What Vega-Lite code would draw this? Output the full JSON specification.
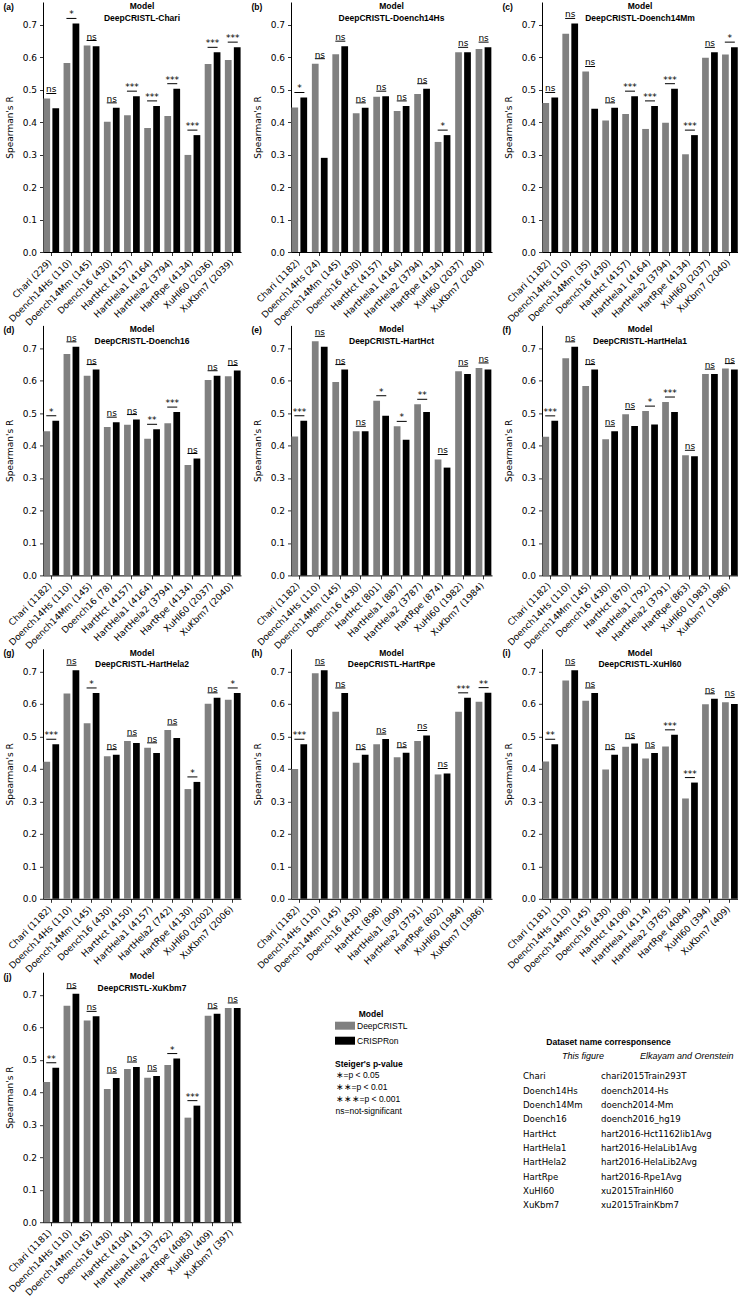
{
"$schema":"https://vega.github.io/schema/vega-lite/v6.json",
"padding":{"left":3,"top":2,"right":0,"bottom":0},
"config":{
 "font":"DejaVu Sans",
 "view":{"stroke":null},
 "axis":{"labelFont":"DejaVu Sans","labelFontSize":9,"labelColor":"#000","titleFont":"DejaVu Sans","titleFontSize":9,"titleFontWeight":"normal","titleColor":"#000","domainColor":"#000","domainWidth":1,"tickColor":"#000","tickWidth":0.8,"tickSize":3.5,"grid":false},
 "axisBottom":{"labelAngle":-45,"labelAlign":"right","labelBaseline":"top","labelPadding":2,"labelOffset":-4,"labelOverlap":false,"labelLimit":0},
 "axisLeft":{"labelPadding":3,"titlePadding":8,"labelOverlap":false},
 "title":{"font":"Liberation Sans","fontSize":8.5,"fontWeight":"bold","color":"#000","subtitleFont":"Liberation Sans","subtitleFontSize":8.5,"subtitleFontWeight":"bold","subtitleColor":"#000","subtitlePadding":3,"anchor":"middle","frame":"group","offset":-20}
},
"datasets":{
"r":[
{"p":"a","ds":"Chari (229)","DeepCRISTL":0.473,"CRISPRon":0.443,"sig":"ns"},
{"p":"a","ds":"Doench14Hs (110)","DeepCRISTL":0.582,"CRISPRon":0.704,"sig":"*"},
{"p":"a","ds":"Doench14Mm (145)","DeepCRISTL":0.636,"CRISPRon":0.634,"sig":"ns"},
{"p":"a","ds":"Doench16 (430)","DeepCRISTL":0.401,"CRISPRon":0.444,"sig":"ns"},
{"p":"a","ds":"HartHct (4157)","DeepCRISTL":0.421,"CRISPRon":0.480,"sig":"***"},
{"p":"a","ds":"HartHela1 (4164)","DeepCRISTL":0.382,"CRISPRon":0.450,"sig":"***"},
{"p":"a","ds":"HartHela2 (3794)","DeepCRISTL":0.419,"CRISPRon":0.503,"sig":"***"},
{"p":"a","ds":"HartRpe (4134)","DeepCRISTL":0.299,"CRISPRon":0.360,"sig":"***"},
{"p":"a","ds":"XuHl60 (2036)","DeepCRISTL":0.579,"CRISPRon":0.615,"sig":"***"},
{"p":"a","ds":"XuKbm7 (2039)","DeepCRISTL":0.591,"CRISPRon":0.631,"sig":"***"},
{"p":"b","ds":"Chari (1182)","DeepCRISTL":0.445,"CRISPRon":0.476,"sig":"*"},
{"p":"b","ds":"Doench14Hs (24)","DeepCRISTL":0.580,"CRISPRon":0.290,"sig":"ns"},
{"p":"b","ds":"Doench14Mm (145)","DeepCRISTL":0.609,"CRISPRon":0.634,"sig":"ns"},
{"p":"b","ds":"Doench16 (430)","DeepCRISTL":0.427,"CRISPRon":0.444,"sig":"ns"},
{"p":"b","ds":"HartHct (4157)","DeepCRISTL":0.478,"CRISPRon":0.480,"sig":"ns"},
{"p":"b","ds":"HartHela1 (4164)","DeepCRISTL":0.434,"CRISPRon":0.450,"sig":"ns"},
{"p":"b","ds":"HartHela2 (3794)","DeepCRISTL":0.487,"CRISPRon":0.503,"sig":"ns"},
{"p":"b","ds":"HartRpe (4134)","DeepCRISTL":0.339,"CRISPRon":0.360,"sig":"*"},
{"p":"b","ds":"XuHl60 (2037)","DeepCRISTL":0.615,"CRISPRon":0.615,"sig":"ns"},
{"p":"b","ds":"XuKbm7 (2040)","DeepCRISTL":0.625,"CRISPRon":0.631,"sig":"ns"},
{"p":"c","ds":"Chari (1182)","DeepCRISTL":0.459,"CRISPRon":0.476,"sig":"ns"},
{"p":"c","ds":"Doench14Hs (110)","DeepCRISTL":0.672,"CRISPRon":0.704,"sig":"ns"},
{"p":"c","ds":"Doench14Mm (35)","DeepCRISTL":0.556,"CRISPRon":0.441,"sig":"ns"},
{"p":"c","ds":"Doench16 (430)","DeepCRISTL":0.405,"CRISPRon":0.444,"sig":"ns"},
{"p":"c","ds":"HartHct (4157)","DeepCRISTL":0.425,"CRISPRon":0.480,"sig":"***"},
{"p":"c","ds":"HartHela1 (4164)","DeepCRISTL":0.379,"CRISPRon":0.450,"sig":"***"},
{"p":"c","ds":"HartHela2 (3794)","DeepCRISTL":0.398,"CRISPRon":0.503,"sig":"***"},
{"p":"c","ds":"HartRpe (4134)","DeepCRISTL":0.301,"CRISPRon":0.360,"sig":"***"},
{"p":"c","ds":"XuHl60 (2037)","DeepCRISTL":0.598,"CRISPRon":0.615,"sig":"ns"},
{"p":"c","ds":"XuKbm7 (2040)","DeepCRISTL":0.608,"CRISPRon":0.631,"sig":"*"},
{"p":"d","ds":"Chari (1182)","DeepCRISTL":0.444,"CRISPRon":0.476,"sig":"*"},
{"p":"d","ds":"Doench14Hs (110)","DeepCRISTL":0.682,"CRISPRon":0.704,"sig":"ns"},
{"p":"d","ds":"Doench14Mm (145)","DeepCRISTL":0.615,"CRISPRon":0.634,"sig":"ns"},
{"p":"d","ds":"Doench16 (78)","DeepCRISTL":0.457,"CRISPRon":0.472,"sig":"ns"},
{"p":"d","ds":"HartHct (4157)","DeepCRISTL":0.464,"CRISPRon":0.480,"sig":"ns"},
{"p":"d","ds":"HartHela1 (4164)","DeepCRISTL":0.421,"CRISPRon":0.450,"sig":"**"},
{"p":"d","ds":"HartHela2 (3794)","DeepCRISTL":0.469,"CRISPRon":0.503,"sig":"***"},
{"p":"d","ds":"HartRpe (4134)","DeepCRISTL":0.340,"CRISPRon":0.360,"sig":"ns"},
{"p":"d","ds":"XuHl60 (2037)","DeepCRISTL":0.602,"CRISPRon":0.615,"sig":"ns"},
{"p":"d","ds":"XuKbm7 (2040)","DeepCRISTL":0.613,"CRISPRon":0.631,"sig":"ns"},
{"p":"e","ds":"Chari (1182)","DeepCRISTL":0.428,"CRISPRon":0.476,"sig":"***"},
{"p":"e","ds":"Doench14Hs (110)","DeepCRISTL":0.721,"CRISPRon":0.704,"sig":"ns"},
{"p":"e","ds":"Doench14Mm (145)","DeepCRISTL":0.596,"CRISPRon":0.634,"sig":"ns"},
{"p":"e","ds":"Doench16 (430)","DeepCRISTL":0.444,"CRISPRon":0.444,"sig":"ns"},
{"p":"e","ds":"HartHct (801)","DeepCRISTL":0.538,"CRISPRon":0.492,"sig":"*"},
{"p":"e","ds":"HartHela1 (887)","DeepCRISTL":0.459,"CRISPRon":0.418,"sig":"*"},
{"p":"e","ds":"HartHela2 (3787)","DeepCRISTL":0.527,"CRISPRon":0.503,"sig":"**"},
{"p":"e","ds":"HartRpe (874)","DeepCRISTL":0.357,"CRISPRon":0.332,"sig":"ns"},
{"p":"e","ds":"XuHl60 (1982)","DeepCRISTL":0.629,"CRISPRon":0.620,"sig":"ns"},
{"p":"e","ds":"XuKbm7 (1984)","DeepCRISTL":0.639,"CRISPRon":0.634,"sig":"ns"},
{"p":"f","ds":"Chari (1182)","DeepCRISTL":0.427,"CRISPRon":0.476,"sig":"***"},
{"p":"f","ds":"Doench14Hs (110)","DeepCRISTL":0.669,"CRISPRon":0.704,"sig":"ns"},
{"p":"f","ds":"Doench14Mm (145)","DeepCRISTL":0.583,"CRISPRon":0.634,"sig":"ns"},
{"p":"f","ds":"Doench16 (430)","DeepCRISTL":0.419,"CRISPRon":0.444,"sig":"ns"},
{"p":"f","ds":"HartHct (870)","DeepCRISTL":0.496,"CRISPRon":0.460,"sig":"ns"},
{"p":"f","ds":"HartHela1 (792)","DeepCRISTL":0.506,"CRISPRon":0.465,"sig":"*"},
{"p":"f","ds":"HartHela2 (3791)","DeepCRISTL":0.534,"CRISPRon":0.503,"sig":"***"},
{"p":"f","ds":"HartRpe (863)","DeepCRISTL":0.370,"CRISPRon":0.367,"sig":"ns"},
{"p":"f","ds":"XuHl60 (1983)","DeepCRISTL":0.620,"CRISPRon":0.620,"sig":"ns"},
{"p":"f","ds":"XuKbm7 (1986)","DeepCRISTL":0.637,"CRISPRon":0.634,"sig":"ns"},
{"p":"g","ds":"Chari (1182)","DeepCRISTL":0.422,"CRISPRon":0.476,"sig":"***"},
{"p":"g","ds":"Doench14Hs (110)","DeepCRISTL":0.632,"CRISPRon":0.704,"sig":"ns"},
{"p":"g","ds":"Doench14Mm (145)","DeepCRISTL":0.541,"CRISPRon":0.634,"sig":"*"},
{"p":"g","ds":"Doench16 (430)","DeepCRISTL":0.439,"CRISPRon":0.444,"sig":"ns"},
{"p":"g","ds":"HartHct (4150)","DeepCRISTL":0.486,"CRISPRon":0.480,"sig":"ns"},
{"p":"g","ds":"HartHela1 (4157)","DeepCRISTL":0.465,"CRISPRon":0.449,"sig":"ns"},
{"p":"g","ds":"HartHela2 (742)","DeepCRISTL":0.520,"CRISPRon":0.495,"sig":"ns"},
{"p":"g","ds":"HartRpe (4130)","DeepCRISTL":0.338,"CRISPRon":0.360,"sig":"*"},
{"p":"g","ds":"XuHl60 (2002)","DeepCRISTL":0.601,"CRISPRon":0.619,"sig":"ns"},
{"p":"g","ds":"XuKbm7 (2006)","DeepCRISTL":0.613,"CRISPRon":0.634,"sig":"*"},
{"p":"h","ds":"Chari (1182)","DeepCRISTL":0.400,"CRISPRon":0.476,"sig":"***"},
{"p":"h","ds":"Doench14Hs (110)","DeepCRISTL":0.695,"CRISPRon":0.704,"sig":"ns"},
{"p":"h","ds":"Doench14Mm (145)","DeepCRISTL":0.576,"CRISPRon":0.634,"sig":"ns"},
{"p":"h","ds":"Doench16 (430)","DeepCRISTL":0.419,"CRISPRon":0.444,"sig":"ns"},
{"p":"h","ds":"HartHct (898)","DeepCRISTL":0.476,"CRISPRon":0.492,"sig":"ns"},
{"p":"h","ds":"HartHela1 (909)","DeepCRISTL":0.436,"CRISPRon":0.450,"sig":"ns"},
{"p":"h","ds":"HartHela2 (3791)","DeepCRISTL":0.486,"CRISPRon":0.503,"sig":"ns"},
{"p":"h","ds":"HartRpe (802)","DeepCRISTL":0.383,"CRISPRon":0.386,"sig":"ns"},
{"p":"h","ds":"XuHl60 (1984)","DeepCRISTL":0.576,"CRISPRon":0.619,"sig":"***"},
{"p":"h","ds":"XuKbm7 (1986)","DeepCRISTL":0.607,"CRISPRon":0.635,"sig":"**"},
{"p":"i","ds":"Chari (1181)","DeepCRISTL":0.423,"CRISPRon":0.476,"sig":"**"},
{"p":"i","ds":"Doench14Hs (110)","DeepCRISTL":0.672,"CRISPRon":0.704,"sig":"ns"},
{"p":"i","ds":"Doench14Mm (145)","DeepCRISTL":0.610,"CRISPRon":0.634,"sig":"ns"},
{"p":"i","ds":"Doench16 (430)","DeepCRISTL":0.398,"CRISPRon":0.444,"sig":"ns"},
{"p":"i","ds":"HartHct (4106)","DeepCRISTL":0.468,"CRISPRon":0.478,"sig":"ns"},
{"p":"i","ds":"HartHela1 (4114)","DeepCRISTL":0.432,"CRISPRon":0.449,"sig":"ns"},
{"p":"i","ds":"HartHela2 (3765)","DeepCRISTL":0.469,"CRISPRon":0.505,"sig":"***"},
{"p":"i","ds":"HartRpe (4084)","DeepCRISTL":0.309,"CRISPRon":0.358,"sig":"***"},
{"p":"i","ds":"XuHl60 (394)","DeepCRISTL":0.599,"CRISPRon":0.616,"sig":"ns"},
{"p":"i","ds":"XuKbm7 (409)","DeepCRISTL":0.605,"CRISPRon":0.600,"sig":"ns"},
{"p":"j","ds":"Chari (1181)","DeepCRISTL":0.432,"CRISPRon":0.476,"sig":"**"},
{"p":"j","ds":"Doench14Hs (110)","DeepCRISTL":0.667,"CRISPRon":0.704,"sig":"ns"},
{"p":"j","ds":"Doench14Mm (145)","DeepCRISTL":0.621,"CRISPRon":0.634,"sig":"ns"},
{"p":"j","ds":"Doench16 (430)","DeepCRISTL":0.410,"CRISPRon":0.444,"sig":"ns"},
{"p":"j","ds":"HartHct (4104)","DeepCRISTL":0.472,"CRISPRon":0.478,"sig":"ns"},
{"p":"j","ds":"HartHela1 (4113)","DeepCRISTL":0.445,"CRISPRon":0.450,"sig":"ns"},
{"p":"j","ds":"HartHela2 (3762)","DeepCRISTL":0.484,"CRISPRon":0.504,"sig":"*"},
{"p":"j","ds":"HartRpe (4083)","DeepCRISTL":0.322,"CRISPRon":0.359,"sig":"***"},
{"p":"j","ds":"XuHl60 (409)","DeepCRISTL":0.636,"CRISPRon":0.642,"sig":"ns"},
{"p":"j","ds":"XuKbm7 (397)","DeepCRISTL":0.660,"CRISPRon":0.660,"sig":"ns"}
],
"names":[
{"This figure":"Chari","Elkayam and Orenstein":"chari2015Train293T"},
{"This figure":"Doench14Hs","Elkayam and Orenstein":"doench2014-Hs"},
{"This figure":"Doench14Mm","Elkayam and Orenstein":"doench2014-Mm"},
{"This figure":"Doench16","Elkayam and Orenstein":"doench2016_hg19"},
{"This figure":"HartHct","Elkayam and Orenstein":"hart2016-Hct1162lib1Avg"},
{"This figure":"HartHela1","Elkayam and Orenstein":"hart2016-HelaLib1Avg"},
{"This figure":"HartHela2","Elkayam and Orenstein":"hart2016-HelaLib2Avg"},
{"This figure":"HartRpe","Elkayam and Orenstein":"hart2016-Rpe1Avg"},
{"This figure":"XuHl60","Elkayam and Orenstein":"xu2015TrainHl60"},
{"This figure":"XuKbm7","Elkayam and Orenstein":"xu2015TrainKbm7"}
]
},
"columns":3,
"bounds":"flush",
"spacing":{"row":73.4,"column":50},
"resolve":{"legend":{"color":"independent","opacity":"independent"}},
"concat":[
{"width":198,"height":250,"data":{"name":"r"},"title":{"text":"Model","subtitle":"DeepCRISTL-Chari"},
 "transform":[{"filter":"datum.p=='a'"},{"fold":["DeepCRISTL","CRISPRon"],"as":["model","R"]}],
 "layer":[
  {"mark":{"type":"bar"},"encoding":{
   "x":{"field":"ds","type":"nominal","sort":null,"title":null,"scale":{"paddingInner":0.22,"paddingOuter":0.02}},
   "xOffset":{"field":"model","type":"nominal","sort":["DeepCRISTL","CRISPRon"],"scale":{"paddingInner":0.25,"paddingOuter":0}},
   "y":{"field":"R","type":"quantitative","title":"Spearman's R","scale":{"domain":[0,0.77],"nice":false},"axis":{"values":[0,0.1,0.2,0.3,0.4,0.5,0.6,0.7],"format":".1f"}},
   "color":{"field":"model","type":"nominal","scale":{"domain":["DeepCRISTL","CRISPRon"],"range":["#808080","#000000"]},"legend":null}}},
  {"mark":{"type":"tick","thickness":1,"size":10,"yOffset":-5,"color":"#000"},"encoding":{
   "x":{"field":"ds","type":"nominal","sort":null,"axis":{"orient":"top","title":"(a)","labels":false,"ticks":false,"domain":false,"titleAnchor":"start","titleX":-40,"titleY":4,"titleBaseline":"middle","titleAlign":"left","titleFont":"Liberation Sans","titleFontWeight":"bold","titleFontSize":8.5}},
   "y":{"aggregate":"max","field":"R","type":"quantitative","title":"Spearman's R","axis":{"values":[0,0.1,0.2,0.3,0.4,0.5,0.6,0.7],"format":".1f"}}}},
  {"mark":{"type":"text","dy":-6,"baseline":"alphabetic","fontSize":9,"font":"DejaVu Sans","color":"#000"},"encoding":{
   "x":{"field":"ds","type":"nominal","sort":null,"axis":null},
   "y":{"aggregate":"max","field":"R","type":"quantitative","title":"Spearman's R","axis":{"values":[0,0.1,0.2,0.3,0.4,0.5,0.6,0.7],"format":".1f"}},
   "text":{"field":"sig","type":"nominal"}}}
 ],"resolve":{"axis":{"x":"independent"}}},
{"width":201,"height":250,"data":{"name":"r"},"title":{"text":"Model","subtitle":"DeepCRISTL-Doench14Hs"},
 "transform":[{"filter":"datum.p=='b'"},{"fold":["DeepCRISTL","CRISPRon"],"as":["model","R"]}],
 "layer":[
  {"mark":{"type":"bar"},"encoding":{
   "x":{"field":"ds","type":"nominal","sort":null,"title":null,"scale":{"paddingInner":0.22,"paddingOuter":0.02}},
   "xOffset":{"field":"model","type":"nominal","sort":["DeepCRISTL","CRISPRon"],"scale":{"paddingInner":0.25,"paddingOuter":0}},
   "y":{"field":"R","type":"quantitative","title":"Spearman's R","scale":{"domain":[0,0.77],"nice":false},"axis":{"values":[0,0.1,0.2,0.3,0.4,0.5,0.6,0.7],"format":".1f"}},
   "color":{"field":"model","type":"nominal","scale":{"domain":["DeepCRISTL","CRISPRon"],"range":["#808080","#000000"]},"legend":null}}},
  {"mark":{"type":"tick","thickness":1,"size":10,"yOffset":-5,"color":"#000"},"encoding":{
   "x":{"field":"ds","type":"nominal","sort":null,"axis":{"orient":"top","title":"(b)","labels":false,"ticks":false,"domain":false,"titleAnchor":"start","titleX":-40,"titleY":4,"titleBaseline":"middle","titleAlign":"left","titleFont":"Liberation Sans","titleFontWeight":"bold","titleFontSize":8.5}},
   "y":{"aggregate":"max","field":"R","type":"quantitative","title":"Spearman's R","axis":{"values":[0,0.1,0.2,0.3,0.4,0.5,0.6,0.7],"format":".1f"}}}},
  {"mark":{"type":"text","dy":-6,"baseline":"alphabetic","fontSize":9,"font":"DejaVu Sans","color":"#000"},"encoding":{
   "x":{"field":"ds","type":"nominal","sort":null,"axis":null},
   "y":{"aggregate":"max","field":"R","type":"quantitative","title":"Spearman's R","axis":{"values":[0,0.1,0.2,0.3,0.4,0.5,0.6,0.7],"format":".1f"}},
   "text":{"field":"sig","type":"nominal"}}}
 ],"resolve":{"axis":{"x":"independent"}}},
{"width":196,"height":250,"data":{"name":"r"},"title":{"text":"Model","subtitle":"DeepCRISTL-Doench14Mm"},
 "transform":[{"filter":"datum.p=='c'"},{"fold":["DeepCRISTL","CRISPRon"],"as":["model","R"]}],
 "layer":[
  {"mark":{"type":"bar"},"encoding":{
   "x":{"field":"ds","type":"nominal","sort":null,"title":null,"scale":{"paddingInner":0.22,"paddingOuter":0.02}},
   "xOffset":{"field":"model","type":"nominal","sort":["DeepCRISTL","CRISPRon"],"scale":{"paddingInner":0.25,"paddingOuter":0}},
   "y":{"field":"R","type":"quantitative","title":"Spearman's R","scale":{"domain":[0,0.77],"nice":false},"axis":{"values":[0,0.1,0.2,0.3,0.4,0.5,0.6,0.7],"format":".1f"}},
   "color":{"field":"model","type":"nominal","scale":{"domain":["DeepCRISTL","CRISPRon"],"range":["#808080","#000000"]},"legend":null}}},
  {"mark":{"type":"tick","thickness":1,"size":10,"yOffset":-5,"color":"#000"},"encoding":{
   "x":{"field":"ds","type":"nominal","sort":null,"axis":{"orient":"top","title":"(c)","labels":false,"ticks":false,"domain":false,"titleAnchor":"start","titleX":-40,"titleY":4,"titleBaseline":"middle","titleAlign":"left","titleFont":"Liberation Sans","titleFontWeight":"bold","titleFontSize":8.5}},
   "y":{"aggregate":"max","field":"R","type":"quantitative","title":"Spearman's R","axis":{"values":[0,0.1,0.2,0.3,0.4,0.5,0.6,0.7],"format":".1f"}}}},
  {"mark":{"type":"text","dy":-6,"baseline":"alphabetic","fontSize":9,"font":"DejaVu Sans","color":"#000"},"encoding":{
   "x":{"field":"ds","type":"nominal","sort":null,"axis":null},
   "y":{"aggregate":"max","field":"R","type":"quantitative","title":"Spearman's R","axis":{"values":[0,0.1,0.2,0.3,0.4,0.5,0.6,0.7],"format":".1f"}},
   "text":{"field":"sig","type":"nominal"}}}
 ],"resolve":{"axis":{"x":"independent"}}},
{"width":198,"height":250,"data":{"name":"r"},"title":{"text":"Model","subtitle":"DeepCRISTL-Doench16"},
 "transform":[{"filter":"datum.p=='d'"},{"fold":["DeepCRISTL","CRISPRon"],"as":["model","R"]}],
 "layer":[
  {"mark":{"type":"bar"},"encoding":{
   "x":{"field":"ds","type":"nominal","sort":null,"title":null,"scale":{"paddingInner":0.22,"paddingOuter":0.02}},
   "xOffset":{"field":"model","type":"nominal","sort":["DeepCRISTL","CRISPRon"],"scale":{"paddingInner":0.25,"paddingOuter":0}},
   "y":{"field":"R","type":"quantitative","title":"Spearman's R","scale":{"domain":[0,0.77],"nice":false},"axis":{"values":[0,0.1,0.2,0.3,0.4,0.5,0.6,0.7],"format":".1f"}},
   "color":{"field":"model","type":"nominal","scale":{"domain":["DeepCRISTL","CRISPRon"],"range":["#808080","#000000"]},"legend":null}}},
  {"mark":{"type":"tick","thickness":1,"size":10,"yOffset":-5,"color":"#000"},"encoding":{
   "x":{"field":"ds","type":"nominal","sort":null,"axis":{"orient":"top","title":"(d)","labels":false,"ticks":false,"domain":false,"titleAnchor":"start","titleX":-40,"titleY":4,"titleBaseline":"middle","titleAlign":"left","titleFont":"Liberation Sans","titleFontWeight":"bold","titleFontSize":8.5}},
   "y":{"aggregate":"max","field":"R","type":"quantitative","title":"Spearman's R","axis":{"values":[0,0.1,0.2,0.3,0.4,0.5,0.6,0.7],"format":".1f"}}}},
  {"mark":{"type":"text","dy":-6,"baseline":"alphabetic","fontSize":9,"font":"DejaVu Sans","color":"#000"},"encoding":{
   "x":{"field":"ds","type":"nominal","sort":null,"axis":null},
   "y":{"aggregate":"max","field":"R","type":"quantitative","title":"Spearman's R","axis":{"values":[0,0.1,0.2,0.3,0.4,0.5,0.6,0.7],"format":".1f"}},
   "text":{"field":"sig","type":"nominal"}}}
 ],"resolve":{"axis":{"x":"independent"}}},
{"width":201,"height":250,"data":{"name":"r"},"title":{"text":"Model","subtitle":"DeepCRISTL-HartHct"},
 "transform":[{"filter":"datum.p=='e'"},{"fold":["DeepCRISTL","CRISPRon"],"as":["model","R"]}],
 "layer":[
  {"mark":{"type":"bar"},"encoding":{
   "x":{"field":"ds","type":"nominal","sort":null,"title":null,"scale":{"paddingInner":0.22,"paddingOuter":0.02}},
   "xOffset":{"field":"model","type":"nominal","sort":["DeepCRISTL","CRISPRon"],"scale":{"paddingInner":0.25,"paddingOuter":0}},
   "y":{"field":"R","type":"quantitative","title":"Spearman's R","scale":{"domain":[0,0.77],"nice":false},"axis":{"values":[0,0.1,0.2,0.3,0.4,0.5,0.6,0.7],"format":".1f"}},
   "color":{"field":"model","type":"nominal","scale":{"domain":["DeepCRISTL","CRISPRon"],"range":["#808080","#000000"]},"legend":null}}},
  {"mark":{"type":"tick","thickness":1,"size":10,"yOffset":-5,"color":"#000"},"encoding":{
   "x":{"field":"ds","type":"nominal","sort":null,"axis":{"orient":"top","title":"(e)","labels":false,"ticks":false,"domain":false,"titleAnchor":"start","titleX":-40,"titleY":4,"titleBaseline":"middle","titleAlign":"left","titleFont":"Liberation Sans","titleFontWeight":"bold","titleFontSize":8.5}},
   "y":{"aggregate":"max","field":"R","type":"quantitative","title":"Spearman's R","axis":{"values":[0,0.1,0.2,0.3,0.4,0.5,0.6,0.7],"format":".1f"}}}},
  {"mark":{"type":"text","dy":-6,"baseline":"alphabetic","fontSize":9,"font":"DejaVu Sans","color":"#000"},"encoding":{
   "x":{"field":"ds","type":"nominal","sort":null,"axis":null},
   "y":{"aggregate":"max","field":"R","type":"quantitative","title":"Spearman's R","axis":{"values":[0,0.1,0.2,0.3,0.4,0.5,0.6,0.7],"format":".1f"}},
   "text":{"field":"sig","type":"nominal"}}}
 ],"resolve":{"axis":{"x":"independent"}}},
{"width":196,"height":250,"data":{"name":"r"},"title":{"text":"Model","subtitle":"DeepCRISTL-HartHela1"},
 "transform":[{"filter":"datum.p=='f'"},{"fold":["DeepCRISTL","CRISPRon"],"as":["model","R"]}],
 "layer":[
  {"mark":{"type":"bar"},"encoding":{
   "x":{"field":"ds","type":"nominal","sort":null,"title":null,"scale":{"paddingInner":0.22,"paddingOuter":0.02}},
   "xOffset":{"field":"model","type":"nominal","sort":["DeepCRISTL","CRISPRon"],"scale":{"paddingInner":0.25,"paddingOuter":0}},
   "y":{"field":"R","type":"quantitative","title":"Spearman's R","scale":{"domain":[0,0.77],"nice":false},"axis":{"values":[0,0.1,0.2,0.3,0.4,0.5,0.6,0.7],"format":".1f"}},
   "color":{"field":"model","type":"nominal","scale":{"domain":["DeepCRISTL","CRISPRon"],"range":["#808080","#000000"]},"legend":null}}},
  {"mark":{"type":"tick","thickness":1,"size":10,"yOffset":-5,"color":"#000"},"encoding":{
   "x":{"field":"ds","type":"nominal","sort":null,"axis":{"orient":"top","title":"(f)","labels":false,"ticks":false,"domain":false,"titleAnchor":"start","titleX":-40,"titleY":4,"titleBaseline":"middle","titleAlign":"left","titleFont":"Liberation Sans","titleFontWeight":"bold","titleFontSize":8.5}},
   "y":{"aggregate":"max","field":"R","type":"quantitative","title":"Spearman's R","axis":{"values":[0,0.1,0.2,0.3,0.4,0.5,0.6,0.7],"format":".1f"}}}},
  {"mark":{"type":"text","dy":-6,"baseline":"alphabetic","fontSize":9,"font":"DejaVu Sans","color":"#000"},"encoding":{
   "x":{"field":"ds","type":"nominal","sort":null,"axis":null},
   "y":{"aggregate":"max","field":"R","type":"quantitative","title":"Spearman's R","axis":{"values":[0,0.1,0.2,0.3,0.4,0.5,0.6,0.7],"format":".1f"}},
   "text":{"field":"sig","type":"nominal"}}}
 ],"resolve":{"axis":{"x":"independent"}}},
{"width":198,"height":250,"data":{"name":"r"},"title":{"text":"Model","subtitle":"DeepCRISTL-HartHela2"},
 "transform":[{"filter":"datum.p=='g'"},{"fold":["DeepCRISTL","CRISPRon"],"as":["model","R"]}],
 "layer":[
  {"mark":{"type":"bar"},"encoding":{
   "x":{"field":"ds","type":"nominal","sort":null,"title":null,"scale":{"paddingInner":0.22,"paddingOuter":0.02}},
   "xOffset":{"field":"model","type":"nominal","sort":["DeepCRISTL","CRISPRon"],"scale":{"paddingInner":0.25,"paddingOuter":0}},
   "y":{"field":"R","type":"quantitative","title":"Spearman's R","scale":{"domain":[0,0.77],"nice":false},"axis":{"values":[0,0.1,0.2,0.3,0.4,0.5,0.6,0.7],"format":".1f"}},
   "color":{"field":"model","type":"nominal","scale":{"domain":["DeepCRISTL","CRISPRon"],"range":["#808080","#000000"]},"legend":null}}},
  {"mark":{"type":"tick","thickness":1,"size":10,"yOffset":-5,"color":"#000"},"encoding":{
   "x":{"field":"ds","type":"nominal","sort":null,"axis":{"orient":"top","title":"(g)","labels":false,"ticks":false,"domain":false,"titleAnchor":"start","titleX":-40,"titleY":4,"titleBaseline":"middle","titleAlign":"left","titleFont":"Liberation Sans","titleFontWeight":"bold","titleFontSize":8.5}},
   "y":{"aggregate":"max","field":"R","type":"quantitative","title":"Spearman's R","axis":{"values":[0,0.1,0.2,0.3,0.4,0.5,0.6,0.7],"format":".1f"}}}},
  {"mark":{"type":"text","dy":-6,"baseline":"alphabetic","fontSize":9,"font":"DejaVu Sans","color":"#000"},"encoding":{
   "x":{"field":"ds","type":"nominal","sort":null,"axis":null},
   "y":{"aggregate":"max","field":"R","type":"quantitative","title":"Spearman's R","axis":{"values":[0,0.1,0.2,0.3,0.4,0.5,0.6,0.7],"format":".1f"}},
   "text":{"field":"sig","type":"nominal"}}}
 ],"resolve":{"axis":{"x":"independent"}}},
{"width":201,"height":250,"data":{"name":"r"},"title":{"text":"Model","subtitle":"DeepCRISTL-HartRpe"},
 "transform":[{"filter":"datum.p=='h'"},{"fold":["DeepCRISTL","CRISPRon"],"as":["model","R"]}],
 "layer":[
  {"mark":{"type":"bar"},"encoding":{
   "x":{"field":"ds","type":"nominal","sort":null,"title":null,"scale":{"paddingInner":0.22,"paddingOuter":0.02}},
   "xOffset":{"field":"model","type":"nominal","sort":["DeepCRISTL","CRISPRon"],"scale":{"paddingInner":0.25,"paddingOuter":0}},
   "y":{"field":"R","type":"quantitative","title":"Spearman's R","scale":{"domain":[0,0.77],"nice":false},"axis":{"values":[0,0.1,0.2,0.3,0.4,0.5,0.6,0.7],"format":".1f"}},
   "color":{"field":"model","type":"nominal","scale":{"domain":["DeepCRISTL","CRISPRon"],"range":["#808080","#000000"]},"legend":null}}},
  {"mark":{"type":"tick","thickness":1,"size":10,"yOffset":-5,"color":"#000"},"encoding":{
   "x":{"field":"ds","type":"nominal","sort":null,"axis":{"orient":"top","title":"(h)","labels":false,"ticks":false,"domain":false,"titleAnchor":"start","titleX":-40,"titleY":4,"titleBaseline":"middle","titleAlign":"left","titleFont":"Liberation Sans","titleFontWeight":"bold","titleFontSize":8.5}},
   "y":{"aggregate":"max","field":"R","type":"quantitative","title":"Spearman's R","axis":{"values":[0,0.1,0.2,0.3,0.4,0.5,0.6,0.7],"format":".1f"}}}},
  {"mark":{"type":"text","dy":-6,"baseline":"alphabetic","fontSize":9,"font":"DejaVu Sans","color":"#000"},"encoding":{
   "x":{"field":"ds","type":"nominal","sort":null,"axis":null},
   "y":{"aggregate":"max","field":"R","type":"quantitative","title":"Spearman's R","axis":{"values":[0,0.1,0.2,0.3,0.4,0.5,0.6,0.7],"format":".1f"}},
   "text":{"field":"sig","type":"nominal"}}}
 ],"resolve":{"axis":{"x":"independent"}}},
{"width":196,"height":250,"data":{"name":"r"},"title":{"text":"Model","subtitle":"DeepCRISTL-XuHl60"},
 "transform":[{"filter":"datum.p=='i'"},{"fold":["DeepCRISTL","CRISPRon"],"as":["model","R"]}],
 "layer":[
  {"mark":{"type":"bar"},"encoding":{
   "x":{"field":"ds","type":"nominal","sort":null,"title":null,"scale":{"paddingInner":0.22,"paddingOuter":0.02}},
   "xOffset":{"field":"model","type":"nominal","sort":["DeepCRISTL","CRISPRon"],"scale":{"paddingInner":0.25,"paddingOuter":0}},
   "y":{"field":"R","type":"quantitative","title":"Spearman's R","scale":{"domain":[0,0.77],"nice":false},"axis":{"values":[0,0.1,0.2,0.3,0.4,0.5,0.6,0.7],"format":".1f"}},
   "color":{"field":"model","type":"nominal","scale":{"domain":["DeepCRISTL","CRISPRon"],"range":["#808080","#000000"]},"legend":null}}},
  {"mark":{"type":"tick","thickness":1,"size":10,"yOffset":-5,"color":"#000"},"encoding":{
   "x":{"field":"ds","type":"nominal","sort":null,"axis":{"orient":"top","title":"(i)","labels":false,"ticks":false,"domain":false,"titleAnchor":"start","titleX":-40,"titleY":4,"titleBaseline":"middle","titleAlign":"left","titleFont":"Liberation Sans","titleFontWeight":"bold","titleFontSize":8.5}},
   "y":{"aggregate":"max","field":"R","type":"quantitative","title":"Spearman's R","axis":{"values":[0,0.1,0.2,0.3,0.4,0.5,0.6,0.7],"format":".1f"}}}},
  {"mark":{"type":"text","dy":-6,"baseline":"alphabetic","fontSize":9,"font":"DejaVu Sans","color":"#000"},"encoding":{
   "x":{"field":"ds","type":"nominal","sort":null,"axis":null},
   "y":{"aggregate":"max","field":"R","type":"quantitative","title":"Spearman's R","axis":{"values":[0,0.1,0.2,0.3,0.4,0.5,0.6,0.7],"format":".1f"}},
   "text":{"field":"sig","type":"nominal"}}}
 ],"resolve":{"axis":{"x":"independent"}}},
{"width":198,"height":250,"data":{"name":"r"},"title":{"text":"Model","subtitle":"DeepCRISTL-XuKbm7"},
 "transform":[{"filter":"datum.p=='j'"},{"fold":["DeepCRISTL","CRISPRon"],"as":["model","R"]}],
 "layer":[
  {"mark":{"type":"bar"},"encoding":{
   "x":{"field":"ds","type":"nominal","sort":null,"title":null,"scale":{"paddingInner":0.22,"paddingOuter":0.02}},
   "xOffset":{"field":"model","type":"nominal","sort":["DeepCRISTL","CRISPRon"],"scale":{"paddingInner":0.25,"paddingOuter":0}},
   "y":{"field":"R","type":"quantitative","title":"Spearman's R","scale":{"domain":[0,0.77],"nice":false},"axis":{"values":[0,0.1,0.2,0.3,0.4,0.5,0.6,0.7],"format":".1f"}},
   "color":{"field":"model","type":"nominal","scale":{"domain":["DeepCRISTL","CRISPRon"],"range":["#808080","#000000"]},
     "legend":{"orient":"none","legendX":292,"legendY":38,"title":"Model","titleAnchor":"middle","titleFont":"Liberation Sans","titleFontSize":8.5,"titleFontWeight":"bold","titleColor":"#000","labelFont":"Liberation Sans","labelFontSize":8.5,"labelColor":"#000","symbolType":"M-1,-0.4H1V0.4H-1Z","symbolSize":400,"symbolStrokeWidth":0,"labelOffset":2,"rowPadding":-11,"titlePadding":-3,"padding":0}}}},
  {"mark":{"type":"tick","thickness":1,"size":10,"yOffset":-5,"color":"#000"},"encoding":{
   "x":{"field":"ds","type":"nominal","sort":null,"axis":{"orient":"top","title":"(j)","labels":false,"ticks":false,"domain":false,"titleAnchor":"start","titleX":-40,"titleY":4,"titleBaseline":"middle","titleAlign":"left","titleFont":"Liberation Sans","titleFontWeight":"bold","titleFontSize":8.5}},
   "y":{"aggregate":"max","field":"R","type":"quantitative","title":"Spearman's R","axis":{"values":[0,0.1,0.2,0.3,0.4,0.5,0.6,0.7],"format":".1f"}}}},
  {"mark":{"type":"text","dy":-6,"baseline":"alphabetic","fontSize":9,"font":"DejaVu Sans","color":"#000"},"encoding":{
   "x":{"field":"ds","type":"nominal","sort":null,"axis":null},
   "y":{"aggregate":"max","field":"R","type":"quantitative","title":"Spearman's R","axis":{"values":[0,0.1,0.2,0.3,0.4,0.5,0.6,0.7],"format":".1f"}},
   "text":{"field":"sig","type":"nominal"},
   "opacity":{"field":"sig","type":"ordinal","scale":{"type":"ordinal","domain":["*","**","***","ns"],"range":[1,1,1,1]},
     "legend":{"orient":"none","legendX":292,"legendY":88,"title":"Steiger's p-value","titleFont":"Liberation Sans","titleFontSize":8.5,"titleFontWeight":"bold","titleColor":"#000","labelFont":"Liberation Sans","labelFontSize":8.5,"labelColor":"#000","symbolSize":0,"symbolStrokeWidth":0,"symbolOpacity":0,"labelOffset":-8,"rowPadding":3,"titlePadding":2,"padding":0,
       "labelExpr":"datum.label == '*' ? '∗=p < 0.05' : datum.label == '**' ? '∗∗=p < 0.01' : datum.label == '***' ? '∗∗∗=p < 0.001' : 'ns=not-significant'"}}}}
 ],"resolve":{"axis":{"x":"independent"}}},
{"width":201,"height":250,"data":{"name":"names"},
 "transform":[{"fold":["This figure","Elkayam and Orenstein"],"as":["col","txt"]}],
 "mark":{"type":"text","align":"left","baseline":"middle","font":"DejaVu Sans","fontSize":8.6,"color":"#000"},
 "encoding":{
  "x":{"field":"col","type":"nominal","sort":null,"bandPosition":0,"scale":{"type":"band","paddingInner":0,"paddingOuter":0,"range":[232,388]},
   "axis":{"orient":"top","offset":-88,"bandPosition":0,"labels":true,"labelAlign":"left","labelAngle":0,"labelBaseline":"bottom","labelPadding":0,"labelFont":"Liberation Sans","labelFontStyle":"italic","labelFontSize":9,"ticks":false,"domain":false,"title":"Dataset name corresponsence","titleFont":"Liberation Sans","titleFontWeight":"bold","titleFontSize":8.6,"titlePadding":5,"titleX":317}},
  "y":{"field":"This figure","type":"nominal","sort":null,"axis":null,"scale":{"type":"band","paddingInner":0,"paddingOuter":0,"range":[97,240.3]}},
  "text":{"field":"txt"}}}
]
}
